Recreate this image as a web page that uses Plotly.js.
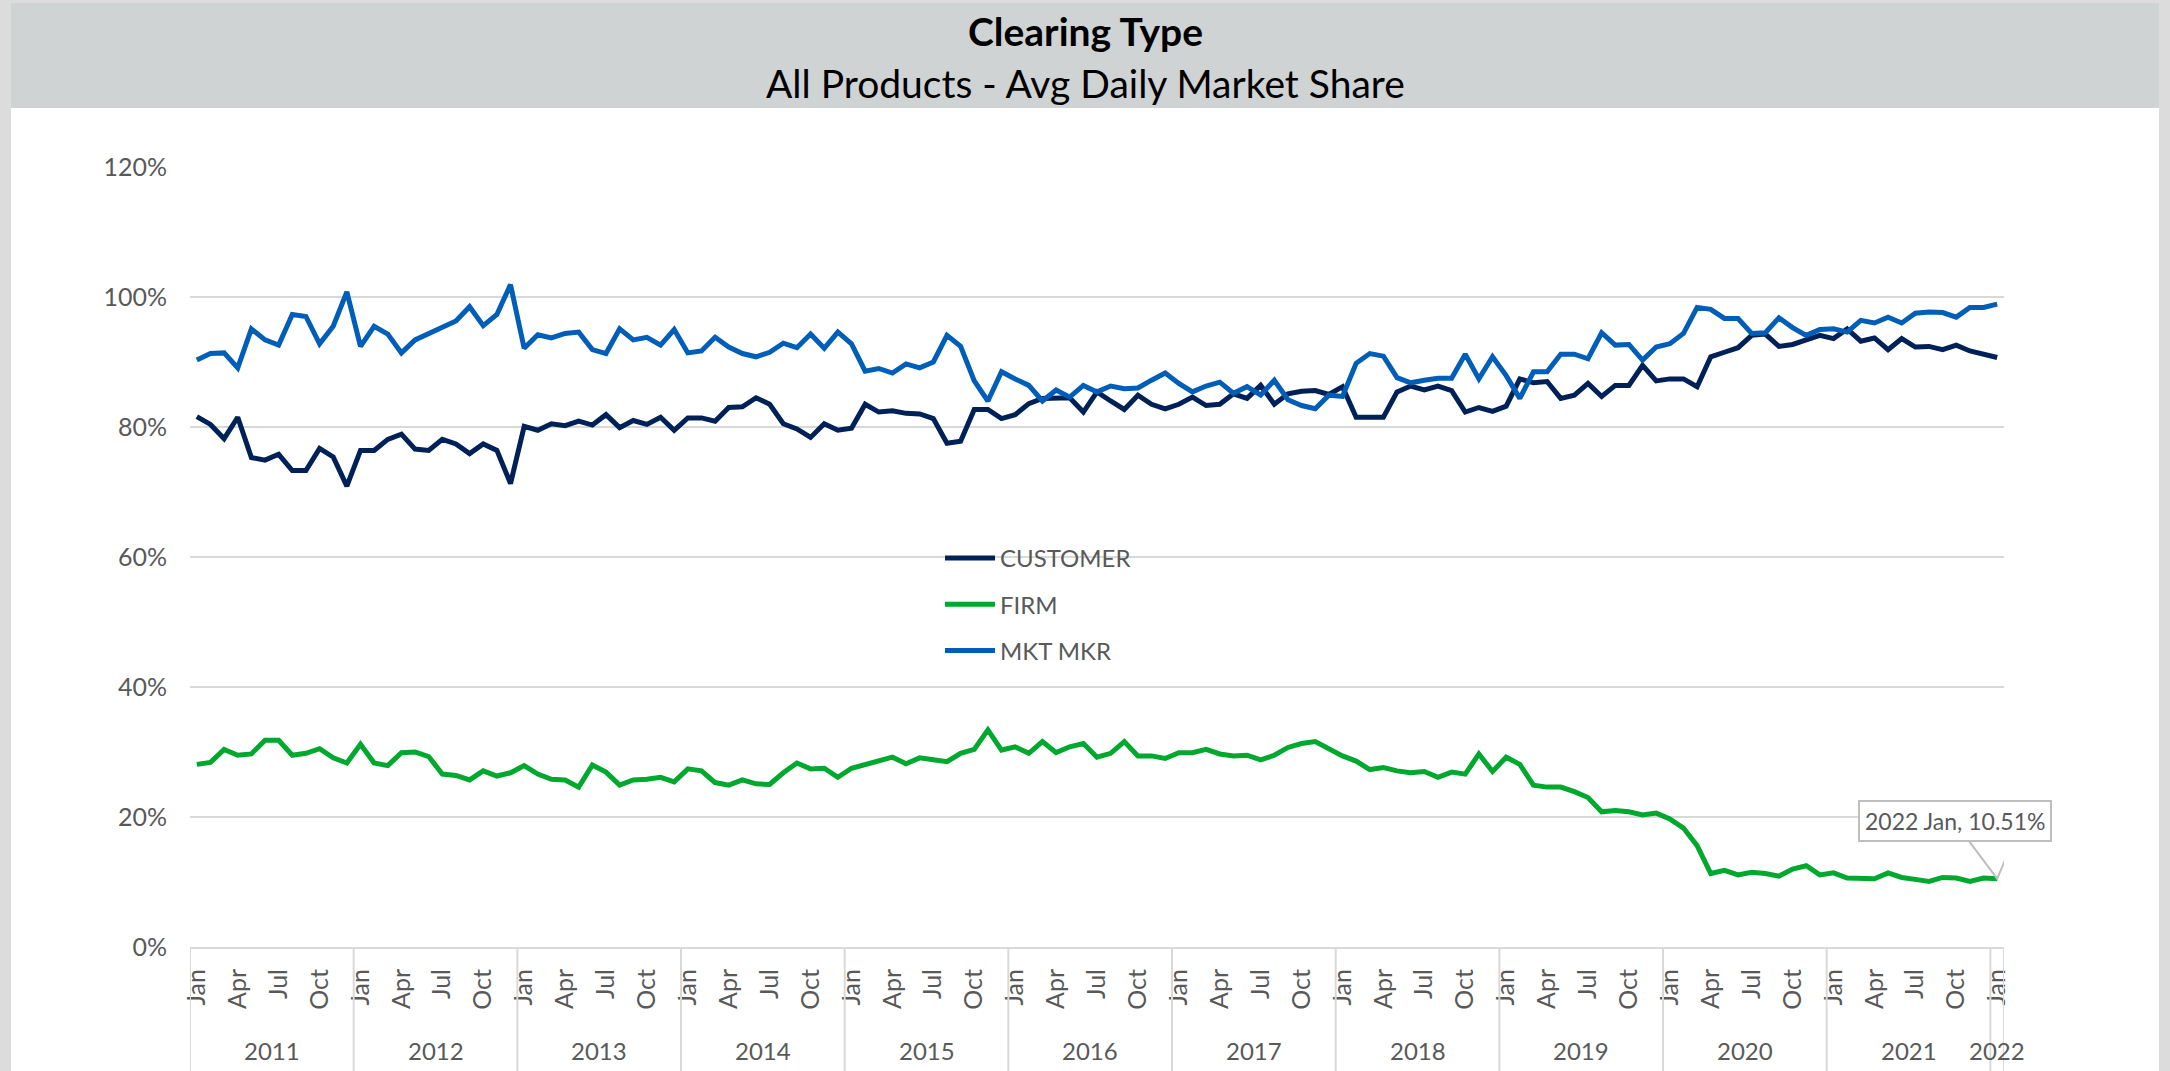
<!DOCTYPE html>
<html>
<head>
<meta charset="utf-8">
<script src="https://cdn.plot.ly/plotly-3.0.1.min.js"></script>
<style>
  html, body { margin: 0; padding: 0; background: #ffffff; }
  #chart { width: 2170px; height: 1071px; }
</style>
</head>
<body>
<div id="chart"></div>
<script>
// ---------------- DATA ----------------
const years = [2011, 2012, 2013, 2014, 2015, 2016, 2017, 2018, 2019, 2020, 2021, 2022];
const monthNames = ['Jan','Feb','Mar','Apr','May','Jun','Jul','Aug','Sep','Oct','Nov','Dec'];
const seriesNames = ['CUSTOMER', 'FIRM', 'MKT MKR'];

// Avg daily market share (%), monthly Jan 2011 .. Jan 2022
const customer = [
  81.6, 80.4, 78.2, 81.5, 75.3, 74.9, 75.8, 73.3, 73.3, 76.7, 75.4, 70.9,
  76.4, 76.4, 78.1, 78.9, 76.6, 76.4, 78.1, 77.4, 75.9, 77.4, 76.4, 71.3,
  80.1, 79.5, 80.5, 80.2, 80.9, 80.3, 81.9, 79.9, 81.0, 80.4, 81.5, 79.5,
  81.4, 81.4, 80.9, 83.0, 83.1, 84.5, 83.5, 80.5, 79.7, 78.4, 80.5, 79.5,
  79.8, 83.5, 82.3, 82.5, 82.1, 82.0, 81.3, 77.5, 77.8, 82.7, 82.7, 81.3,
  81.9, 83.6, 84.4, 84.4, 84.5, 82.3, 85.4, 84.0, 82.7, 84.9, 83.5, 82.8,
  83.5, 84.6, 83.3, 83.5, 85.1, 84.4, 86.4, 83.5, 85.1, 85.5, 85.6, 85.0,
  86.2, 81.5, 81.5, 81.5, 85.4, 86.3, 85.7, 86.3, 85.6, 82.3, 83.0, 82.4,
  83.2, 87.4, 86.8, 87.0, 84.4, 84.9, 86.7, 84.7, 86.4, 86.4, 89.5, 87.1,
  87.4, 87.4, 86.2, 90.8, 91.5, 92.2, 94.1, 94.3, 92.4, 92.7, 93.4, 94.1,
  93.6, 95.1, 93.2, 93.7, 91.9, 93.6, 92.3, 92.4, 91.9, 92.6, 91.7, 91.2,
  90.7
];
const firm = [
  28.1, 28.4, 30.4, 29.5, 29.7, 31.8, 31.8, 29.5, 29.8, 30.5, 29.1, 28.3,
  31.2, 28.3, 27.9, 29.9, 30.0, 29.3, 26.6, 26.4, 25.7, 27.1, 26.3, 26.8,
  27.9, 26.6, 25.8, 25.7, 24.6, 28.0, 26.9, 24.9, 25.7, 25.8, 26.1, 25.4,
  27.4, 27.1, 25.3, 24.9, 25.7, 25.1, 25.0, 26.8, 28.3, 27.4, 27.5, 26.1,
  27.5, 28.1, 28.8, 29.2, 28.2, 29.1, 28.8, 28.5, 29.8, 30.4, 33.4, 30.3,
  30.8, 29.8, 31.6, 29.9, 30.8, 31.3, 29.2, 29.8, 31.6, 29.4, 29.4, 29.0,
  29.9, 29.9, 30.4, 29.7, 29.4, 29.5, 28.8, 29.5, 30.7, 31.3, 31.6, 30.5,
  29.4, 28.6, 27.3, 27.6, 27.1, 26.8, 27.0, 26.1, 26.9, 26.6, 29.7, 27.0,
  29.2, 28.1, 24.9, 24.6, 24.6, 23.9, 23.0, 20.8, 21.0, 20.8, 20.3, 20.6,
  19.7, 18.3, 15.6, 11.3, 11.8, 11.1, 11.5, 11.3, 10.9, 12.0, 12.5, 11.1,
  11.4, 10.6, 10.6, 10.5, 11.4, 10.7, 10.4, 10.1, 10.7, 10.6, 10.1, 10.6,
  10.51
];
const mktMkr = [
  90.3, 91.3, 91.4, 89.1, 95.1, 93.4, 92.6, 97.3, 97.0, 92.8, 95.5, 100.8,
  92.4, 95.5, 94.3, 91.4, 93.4, 94.4, 95.4, 96.3, 98.5, 95.6, 97.3, 101.9,
  92.1, 94.2, 93.7, 94.4, 94.6, 91.9, 91.3, 95.1, 93.4, 93.8, 92.6, 95.0,
  91.4, 91.7, 93.8, 92.3, 91.3, 90.8, 91.5, 92.9, 92.2, 94.3, 92.1, 94.6,
  92.8, 88.6, 89.0, 88.3, 89.7, 89.1, 90.0, 94.1, 92.4, 87.1, 84.0, 88.5,
  87.4, 86.4, 84.0, 85.7, 84.6, 86.4, 85.4, 86.3, 85.9, 86.0, 87.2, 88.3,
  86.7, 85.4, 86.3, 86.9, 85.2, 86.2, 84.9, 87.2, 84.2, 83.3, 82.8, 84.9,
  84.7, 89.8, 91.3, 90.9, 87.6, 86.8, 87.2, 87.5, 87.5, 91.2, 87.4, 90.8,
  87.9, 84.4, 88.5, 88.5, 91.2, 91.2, 90.5, 94.5, 92.6, 92.7, 90.3, 92.3,
  92.8, 94.4, 98.4, 98.1, 96.7, 96.7, 94.4, 94.5, 96.8, 95.3, 94.1, 95.0,
  95.1, 94.6, 96.4, 96.0, 96.9, 96.0, 97.5, 97.7, 97.6, 96.9, 98.4, 98.4,
  98.9
];
const yTicks = [0, 20, 40, 60, 80, 100, 120];
const yTickLabels = ['0%', '20%', '40%', '60%', '80%', '100%', '120%'];

// ---------------- CATEGORIES ----------------
const cats = [];
for (const y of years) {
  for (let m = 0; m < 12; m++) {
    if (cats.length < customer.length) cats.push({ year: y, month: monthNames[m], m: m });
  }
}
const xIdx = cats.map((c, i) => i);

// ---------------- LAYOUT HELPERS ----------------
const FIG_W = 2170, FIG_H = 1071;
const L = 190, T = 167, W = 1814, H = 780;
const px = v => (v - L) / W;
const py = v => (T + H - v) / H;
const FONT = 'Lato, "Open Sans", sans-serif';
const GREY_TXT = '#595959';
const GRID = '#d9d9d9';

const tickvals = xIdx.filter(i => cats[i].m % 3 === 0);
const ticktext = tickvals.map(i => cats[i].month);

const shapes = [];
const annotations = [];
shapes.push({ type: 'rect', xref: 'paper', yref: 'paper', x0: px(11), x1: px(2159), y0: py(1080), y1: py(108),
  fillcolor: '#ffffff', line: { width: 0 }, layer: 'below' });
shapes.push({ type: 'rect', xref: 'paper', yref: 'paper', x0: px(11), x1: px(2159), y0: py(108), y1: py(3),
  fillcolor: '#d0d3d4', line: { width: 0 }, layer: 'below' });

// year boundaries and label centres
const boundaries = [];
years.forEach(y => {
  const idx = xIdx.filter(i => cats[i].year === y);
  if (!idx.length) return;
  boundaries.push(idx[0] - 0.5);
  const centre = (idx[0] + idx[idx.length - 1]) / 2;
  annotations.push({ x: centre, xref: 'x', y: py(1050), yref: 'paper', text: String(y), showarrow: false,
    font: { family: FONT, size: 24, color: GREY_TXT }, xanchor: 'center', yanchor: 'middle' });
});
boundaries.push(xIdx[xIdx.length - 1] + 0.5);
boundaries.forEach(b => {
  shapes.push({ type: 'line', xref: 'x', yref: 'paper', x0: b, x1: b, y0: 0, y1: py(1075),
    line: { color: GRID, width: 2 }, layer: 'above' });
});

// titles
annotations.push({ xref: 'paper', yref: 'paper', x: px(1085), y: py(31), text: '<b>Clearing Type</b>', showarrow: false,
  font: { family: FONT, size: 39, color: '#000000' }, xanchor: 'center', yanchor: 'middle' });
annotations.push({ xref: 'paper', yref: 'paper', x: px(1085), y: py(83), text: 'All Products - Avg Daily Market Share', showarrow: false,
  font: { family: FONT, size: 39, color: '#000000' }, xanchor: 'center', yanchor: 'middle' });

// data callout on last FIRM point
const lastI = xIdx[xIdx.length - 1];
const lastV = firm[firm.length - 1];
annotations.push({ x: lastI, y: lastV, xref: 'x', yref: 'y', showarrow: false,
  text: cats[lastI].year + ' ' + cats[lastI].month + ', ' + lastV.toFixed(2) + '%',
  xshift: -42, yshift: 58, bgcolor: '#ffffff', bordercolor: '#bfbfbf', borderwidth: 2, borderpad: 5,
  font: { family: FONT, size: 23, color: GREY_TXT } });
shapes.push({ type: 'path', xref: 'x', yref: 'y', xsizemode: 'pixel', ysizemode: 'pixel',
  xanchor: lastI, yanchor: lastV, path: 'M -30 40 L 0 0 L 17 40',
  line: { color: '#bfbfbf', width: 2 }, layer: 'above' });

// ---------------- TRACES ----------------
const colors = ['#002157', '#00a82d', '#005eb8'];
const seriesData = [customer, firm, mktMkr];
const traces = seriesData.map((d, k) => ({
  type: 'scatter', mode: 'lines', name: seriesNames[k], x: xIdx, y: d,
  line: { color: colors[k], width: 5, shape: 'linear' },
  legendgroup: 'g' + k, hoverinfo: 'x+y'
}));

const layout = {
  width: FIG_W, height: FIG_H,
  margin: { l: L, r: FIG_W - L - W, t: T, b: FIG_H - T - H, pad: 0 },
  paper_bgcolor: '#dcdcdc',
  plot_bgcolor: 'rgba(0,0,0,0)',
  font: { family: FONT, color: GREY_TXT },
  showlegend: true,
  legend: {
    x: px(940), xanchor: 'left', y: py(536), yanchor: 'top',
    bgcolor: 'rgba(0,0,0,0)', borderwidth: 0,
    font: { family: FONT, size: 24, color: GREY_TXT },
    traceorder: 'grouped', tracegroupgap: 12, itemwidth: 50
  },
  xaxis: {
    type: 'linear', range: [-0.5, lastI + 0.5], fixedrange: true,
    tickmode: 'array', tickvals: tickvals, ticktext: ticktext, tickangle: -90,
    tickfont: { family: FONT, size: 25, color: GREY_TXT },
    ticks: '', showgrid: false, zeroline: false,
    showline: true, linecolor: GRID, linewidth: 2,
    ticklabelstandoff: 10
  },
  yaxis: {
    range: [0, 120], tickmode: 'array', tickvals: yTicks, ticktext: yTickLabels,
    tickfont: { family: FONT, size: 25, color: GREY_TXT },
    showgrid: true, gridcolor: GRID, gridwidth: 2,
    zeroline: false, showline: false, ticks: '', ticklabelstandoff: 22, fixedrange: true
  },
  shapes: shapes,
  annotations: annotations
};

Plotly.newPlot('chart', traces, layout, { displayModeBar: false, staticPlot: true });
</script>
</body>
</html>
